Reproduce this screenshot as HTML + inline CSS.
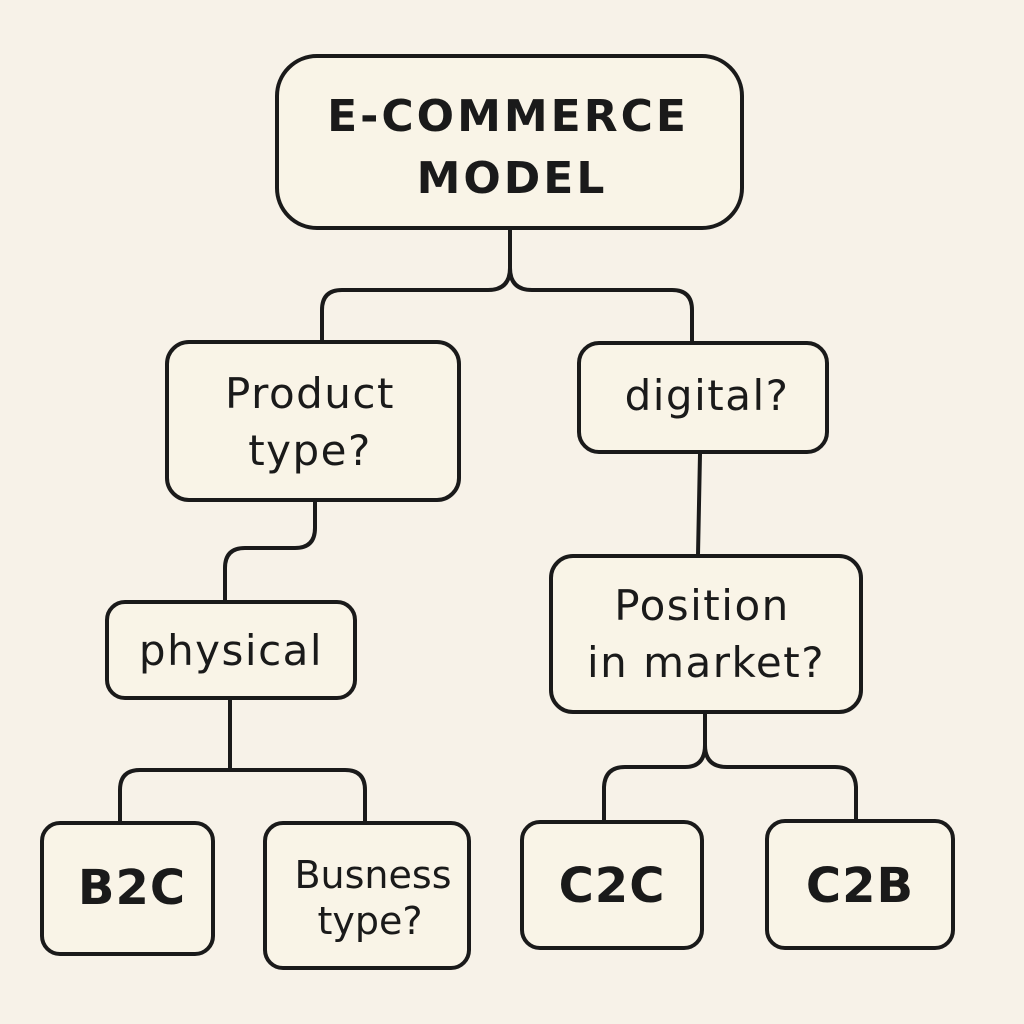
<!DOCTYPE html>
<html><head><meta charset="utf-8"><style>
html,body{margin:0;padding:0;background:#f7f2e8;}
svg{display:block}
text{font-family:"DejaVu Sans","Liberation Sans",sans-serif;fill:#1a1a1a;text-anchor:middle}
</style></head><body>
<svg width="1024" height="1024" viewBox="0 0 1024 1024">
<rect width="1024" height="1024" fill="#f7f2e8"/>
<g fill="none" stroke="#1a1a1a" stroke-width="4" stroke-linecap="round">
<path d="M510 230 V268 Q510 290 488 290 H342 Q322 290 322 310 V340"/>
<path d="M510 268 Q510 290 532 290 H672 Q692 290 692 310 V342"/>
<path d="M315 502 V528 Q315 548 295 548 H245 Q225 548 225 568 V600"/>
<path d="M700 454 L698 555"/>
<path d="M230 700 V770 M230 770 H140 Q120 770 120 790 V822 M230 770 H345 Q365 770 365 790 V822"/>
<path d="M705 714 V745 Q705 767 685 767 H625 Q605 767 604 787 V820 M705 745 Q705 767 727 767 H835 Q855 767 856 787 V820"/>
</g>
<g fill="#f9f4e7" stroke="#1a1a1a" stroke-width="4">
<rect x="277" y="56" width="465" height="172" rx="40"/>
<rect x="167" y="342" width="292" height="158" rx="22"/>
<rect x="579" y="343" width="248" height="109" rx="20"/>
<rect x="107" y="602" width="248" height="96" rx="18"/>
<rect x="551" y="556" width="310" height="156" rx="22"/>
<rect x="42" y="823" width="171" height="131" rx="18"/>
<rect x="265" y="823" width="204" height="145" rx="18"/>
<rect x="522" y="822" width="180" height="126" rx="18"/>
<rect x="767" y="821" width="186" height="127" rx="18"/>
</g>
<text x="508" y="131" font-size="44" font-weight="bold" letter-spacing="3">E-COMMERCE</text>
<text x="512" y="193" font-size="44" font-weight="bold" letter-spacing="3">MODEL</text>
<g font-size="42" letter-spacing="1.5">
<text x="310" y="408">Product</text>
<text x="310" y="465">type?</text>
<text x="707" y="410">digital?</text>
<text x="231" y="665">physical</text>
<text x="702" y="620">Position</text>
<text x="706" y="677">in market?</text>
</g>
<text x="132" y="904" font-size="48" font-weight="bold" letter-spacing="1">B2C</text>
<text x="373" y="888" font-size="38">Busness</text>
<text x="370" y="934" font-size="38">type?</text>
<text x="612" y="902" font-size="48" font-weight="bold" letter-spacing="1">C2C</text>
<text x="860" y="902" font-size="48" font-weight="bold" letter-spacing="1">C2B</text>
</svg>
</body></html>
